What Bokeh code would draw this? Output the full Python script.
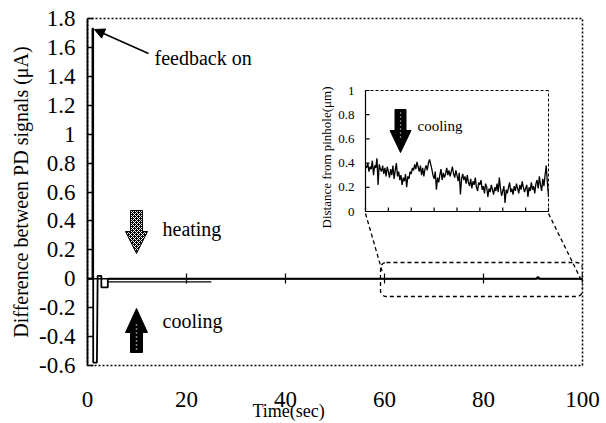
from bokeh.plotting import figure
from bokeh.models import (Range1d, FixedTicker, NumeralTickFormatter, Label, Arrow,
                          NormalHead, BoxAnnotation, Title)
from bokeh.embed import file_html
from bokeh.resources import INLINE
from bokeh.core.properties import value
import math

# ---------------- data ----------------
x_ticks = [0, 20, 40, 60, 80, 100]
y_ticks = [-0.6, -0.4, -0.2, 0, 0.2, 0.4, 0.6, 0.8, 1, 1.2, 1.4, 1.6, 1.8]

main_time = [0.0, 1.0, 1.0, 1.15, 1.15, 1.9, 2.05, 2.5, 2.8, 2.8, 4.1, 4.1,
             25.0, 40.0, 60.0, 80.0, 90.6, 91.0, 91.4, 100.0]
main_signal = [0.0, 0.0, 1.73, 1.73, -0.58, -0.58, 0.02, 0.02, 0.02, -0.06, -0.06, 0.0,
               0.0, 0.0, 0.0, 0.0, 0.0, 0.012, 0.0, 0.0]
ripple_time = [4.1, 25.0]
ripple_low = [-0.022, -0.022]

inset_x_ticks = [60, 65, 70, 75, 80, 85, 90, 95, 100]
inset_y_ticks = [0, 0.2, 0.4, 0.6, 0.8, 1]
inset_y_labels = ["0", "0.2", "0.4", "0.6", "0.8", "1"]

inset_signal = [
    0.38, 0.36, 0.40, 0.33, 0.37, 0.35, 0.42, 0.30, 0.38, 0.36,
    0.44, 0.22, 0.39, 0.35, 0.33, 0.38, 0.31, 0.36, 0.29, 0.37,
    0.33, 0.28, 0.35, 0.30, 0.38, 0.27, 0.34, 0.40, 0.29, 0.33,
    0.26, 0.30, 0.22, 0.28, 0.25, 0.31, 0.20, 0.29, 0.27, 0.33,
    0.31, 0.36, 0.34, 0.39, 0.35, 0.41, 0.37, 0.33, 0.38, 0.30,
    0.36, 0.29, 0.35, 0.38, 0.34, 0.40, 0.43, 0.39, 0.35, 0.30,
    0.27, 0.33, 0.18, 0.28, 0.24, 0.30, 0.35, 0.26, 0.32, 0.28,
    0.31, 0.36, 0.30, 0.34, 0.29, 0.33, 0.37, 0.31, 0.28, 0.34,
    0.30, 0.25, 0.32, 0.14, 0.27, 0.31, 0.26, 0.29, 0.23, 0.30,
    0.24, 0.21, 0.27, 0.19, 0.25, 0.22, 0.28, 0.20, 0.17, 0.24,
    0.22, 0.26, 0.18, 0.21, 0.15, 0.23, 0.20, 0.12, 0.19, 0.16,
    0.22, 0.18, 0.14, 0.20, 0.17, 0.23, 0.16, 0.28, 0.19, 0.13,
    0.17, 0.21, 0.07, 0.18, 0.15, 0.20, 0.24, 0.16, 0.19, 0.14,
    0.21, 0.17, 0.23, 0.19, 0.15, 0.22, 0.18, 0.25, 0.20, 0.16,
    0.19, 0.22, 0.12, 0.20, 0.17, 0.24, 0.18, 0.21, 0.15, 0.23,
    0.26, 0.19, 0.29, 0.22, 0.17, 0.27, 0.21, 0.30, 0.38, 0.24,
    0.12,
]
inset_time = [60 + 0.25 * i for i in range(len(inset_signal))]

# ---------------- layout geometry (pixels) ----------------
W, H = 606, 423
FL, FR, FT, FB = 87, 582, 18, 365          # main frame
IL, IR, IT, IB = 365, 548, 90, 211         # inset frame
X0, X1, Y0, Y1 = 0, 100, -0.6, 1.8
IX0, IX1, IY0, IY1 = 60, 100, 0, 1

sxm = (FR - FL) / (X1 - X0)
sym = (FB - FT) / (Y1 - Y0)
sxi = (IR - IL) / (IX1 - IX0)
syi = (IB - IT) / (IY1 - IY0)


def mx(px):
    return X0 + (px - FL) / sxm


def my(py):
    return Y1 - (py - FT) / sym


def ix(px):
    return IX0 + (px - IL) / sxi


def iy(py):
    return IY1 - (py - IT) / syi


SERIF = "Liberation Serif"

p = figure(width=W, height=H, x_range=Range1d(X0, X1), y_range=Range1d(Y0, Y1),
           output_backend="svg", toolbar_location=None,
           min_border_left=FL, min_border_right=W - FR,
           min_border_top=FT, min_border_bottom=H - FB)
p.xgrid.visible = False
p.ygrid.visible = False
p.outline_line_color = "black"
p.outline_line_dash = "2 2"
p.outline_line_width = 1.6
p.background_fill_color = "white"
p.border_fill_color = "white"

# y axis
ya = p.yaxis[0]
ya.ticker = FixedTicker(ticks=y_ticks)
ya.formatter = NumeralTickFormatter(format="0.[0]")
ya.major_tick_in = 6
ya.major_tick_out = 0
ya.minor_tick_line_color = None
ya.major_tick_line_width = 1.5
ya.axis_line_width = 1.8
ya.major_label_standoff = 12
ya.major_label_text_font = SERIF
ya.major_label_text_font_style = "normal"
ya.major_label_text_font_size = "23px"
ya.major_label_text_color = "black"
ya.axis_label = "Difference between PD signals (\u03bcA)"
ya.axis_label_text_font = SERIF
ya.axis_label_text_font_size = "20px"
ya.axis_label_text_font_style = "normal"
ya.axis_label_text_color = "black"
ya.axis_label_standoff = 4

# x axis (labels only, at the bottom)
xa = p.xaxis[0]
xa.ticker = FixedTicker(ticks=x_ticks)
xa.axis_line_color = None
xa.major_tick_line_color = None
xa.minor_tick_line_color = None
xa.major_tick_in = 0
xa.major_tick_out = 0
xa.major_label_standoff = 26
xa.major_label_text_font = SERIF
xa.major_label_text_font_style = "normal"
xa.major_label_text_font_size = "23px"
xa.major_label_text_color = "black"

p.add_layout(Title(text="Time(sec)", align="left", offset=252 - FL, standoff=-21,
                   text_font=SERIF, text_font_size="18px", text_font_style="normal",
                   text_color="black"), "below")

# zero axis line with crossing ticks
p.line([X0, X1], [0, 0], line_color="black", line_width=1.5)
p.segment(x0=x_ticks[1:], y0=[my(278 - 5)] * 5, x1=x_ticks[1:], y1=[my(278 + 5)] * 5,
          line_color="black", line_width=1.2)

# main data
p.line(main_time, main_signal, line_color="black", line_width=1.8)
p.line(ripple_time, ripple_low, line_color="black", line_width=1.2)

# feedback on
p.add_layout(Arrow(end=NormalHead(size=10, fill_color="black", line_color="black", line_width=1),
                   x_start=mx(148), y_start=my(53), x_end=mx(94), y_end=my(29),
                   line_color="black", line_width=1.6))
p.add_layout(Label(x=mx(154), y=my(57), text="feedback on", text_font=SERIF,
                   text_font_style="normal",
                   text_font_size="20px", text_baseline="middle", text_color="black"))

# heating arrow (down)
cx = mx(136)
sw, hw = 6 / sxm, 11 / sxm
top, hb, tip = my(210), my(231), my(253)
p.patch([cx - sw, cx + sw, cx + sw, cx + hw, cx, cx - hw, cx - sw],
        [top, top, hb, hb, tip, hb, hb],
        fill_color="black", line_color="black", line_width=1,
        hatch_pattern="diagonal_cross", hatch_color="white", hatch_scale=4, hatch_weight=1)
p.add_layout(Label(x=mx(162), y=my(228), text="heating", text_font=SERIF,
                   text_font_style="normal",
                   text_font_size="20px", text_baseline="middle", text_color="black"))

# cooling arrow (up)
bot, hb2, tip2 = my(352), my(332), my(308)
p.patch([cx - sw, cx + sw, cx + sw, cx + hw, cx, cx - hw, cx - sw],
        [bot, bot, hb2, hb2, tip2, hb2, hb2],
        fill_color="black", line_color="black", line_width=1)
p.line([cx, cx], [my(349), my(322)], line_color="white", line_width=1.5, line_dash="1 3")
p.add_layout(Label(x=mx(162), y=my(320), text="cooling", text_font=SERIF,
                   text_font_style="normal",
                   text_font_size="20px", text_baseline="middle", text_color="black"))

# zoom box on main plot + connectors
p.add_layout(BoxAnnotation(left=mx(380), right=mx(582), top=my(262), bottom=my(296),
                           fill_alpha=0, line_color="black", line_alpha=1, line_dash="4 3",
                           line_width=1.3, border_radius=6))
p.line([mx(IL), mx(382)], [my(IB + 2), my(272)], line_color="black", line_dash="4 3", line_width=1.3)
p.line([mx(IR), mx(581)], [my(IB + 2), my(280)], line_color="black", line_dash="4 3", line_width=1.3)

# ---------------- inset ----------------
p.extra_x_ranges = {"ix": Range1d(ix(FL), ix(FR))}
p.extra_y_ranges = {"iy": Range1d(iy(FB), iy(FT))}
kw = dict(x_range_name="ix", y_range_name="iy")

p.line([IX0, IX1], [IY1, IY1], line_color="black", line_dash="3 2", line_width=1, **kw)
p.line([IX1, IX1], [IY0, IY1], line_color="black", line_dash="3 2", line_width=1, **kw)
p.line(inset_time, inset_signal, line_color="black", line_width=1.3, **kw)
p.line([IX0, IX0], [IY0, IY1], line_color="black", line_width=1.2, **kw)
p.line([IX0, IX1], [IY0, IY0], line_color="black", line_width=1.2, **kw)
p.segment(x0=inset_x_ticks, y0=[IY0] * len(inset_x_ticks), x1=inset_x_ticks,
          y1=[iy(IB - 4)] * len(inset_x_ticks), line_color="black", line_width=1.2, **kw)
p.segment(x0=[IX0] * len(inset_y_ticks), y0=inset_y_ticks, x1=[ix(IL + 4)] * len(inset_y_ticks),
          y1=inset_y_ticks, line_color="black", line_width=1.2, **kw)
p.text(x=[ix(354)] * len(inset_y_ticks), y=inset_y_ticks, text=inset_y_labels,
       text_font=value(SERIF), text_font_size="13px", text_align="right",
       text_baseline="middle", text_color="black", **kw)
p.text(x=[ix(326)], y=[iy(157)], text=["Distance from pinhole(\u03bcm)"], angle=math.pi / 2,
       text_font=value(SERIF), text_font_size="13px", text_align="center",
       text_baseline="middle", text_color="black", **kw)

# inset cooling arrow (down)
icx = ix(400)
isw, ihw = 5.5 / sxi, 10.5 / sxi
itop, ihb, itip = iy(109), iy(130), iy(152)
p.patch([icx - isw, icx + isw, icx + isw, icx + ihw, icx, icx - ihw, icx - isw],
        [itop, itop, ihb, ihb, itip, ihb, ihb],
        fill_color="black", line_color="black", line_width=1, **kw)
p.line([icx, icx], [iy(112), iy(140)], line_color="white", line_width=1.2, line_dash="1 3", **kw)
p.text(x=[ix(417)], y=[iy(125)], text=["cooling"], text_font=value(SERIF),
       text_font_size="15px", text_baseline="middle", text_color="black", **kw)

open("out.html", "w").write(file_html(p, INLINE))
